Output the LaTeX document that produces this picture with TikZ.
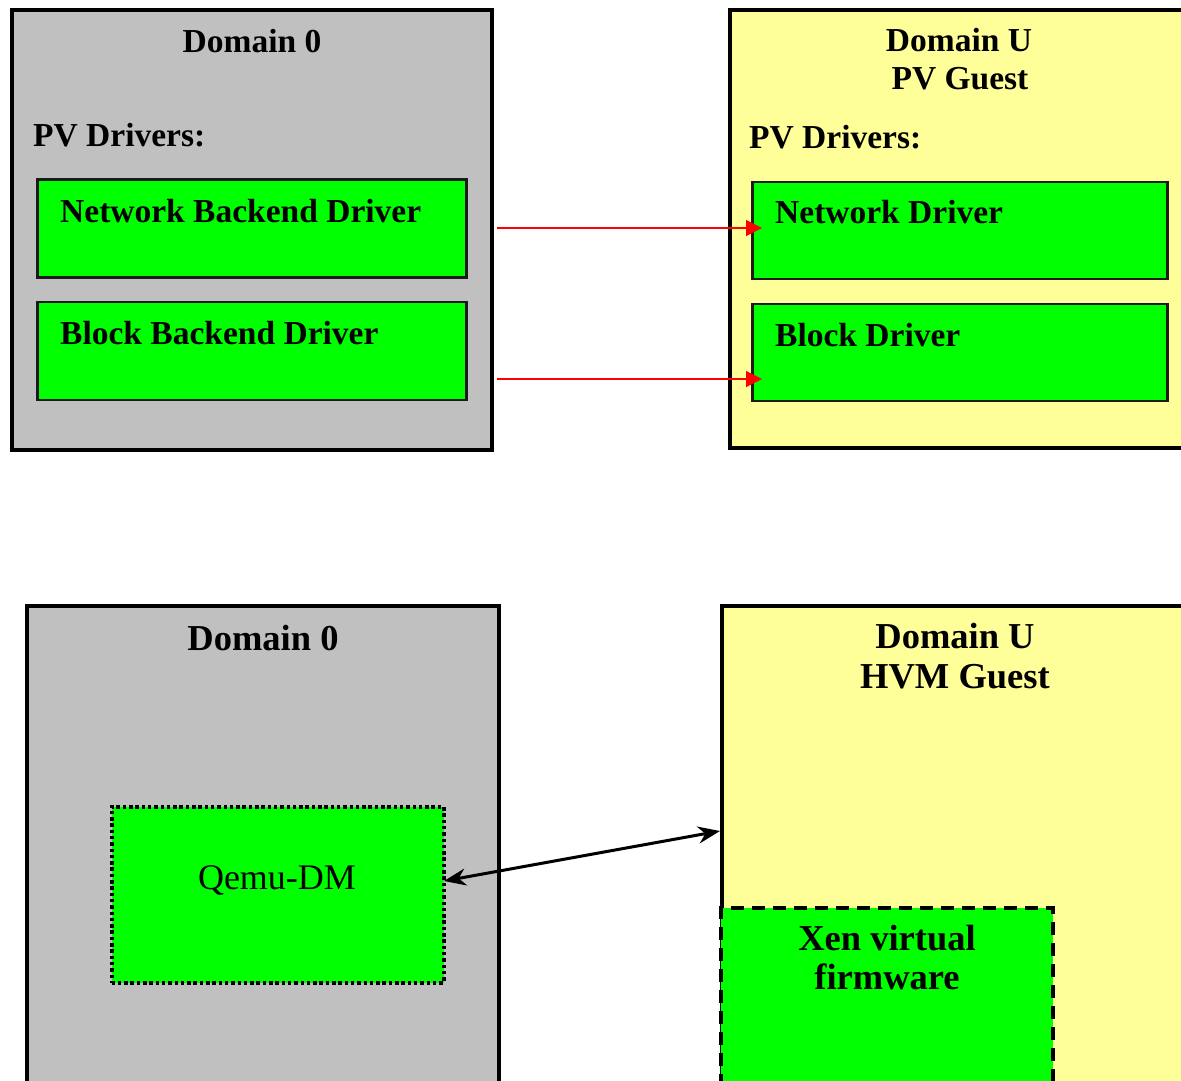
\documentclass[tikz,border=0pt]{standalone}
\usepackage{fontspec}
\setmainfont{Liberation Serif}
\usetikzlibrary{arrows.meta}
\definecolor{domgray}{HTML}{C0C0C0}
\definecolor{domyellow}{HTML}{FFFF99}
\definecolor{drvgreen}{HTML}{00FF00}
\definecolor{edge}{HTML}{1A1A1A}
\tikzset{
  dombox/.style={draw=black, line width=4pt, inner sep=0pt, outer sep=0pt, anchor=north west},
  drvbox/.style={draw=edge, fill=drvgreen, line width=2.2pt, inner sep=0pt, outer sep=0pt, anchor=north west},
  toptext/.style={inner sep=0pt, font=\fontsize{33.5}{38}\selectfont\bfseries},
  bottext/.style={inner sep=0pt, align=center, font=\fontsize{36.5}{40}\selectfont\bfseries},
  redarrow/.style={draw=red, line width=1.2pt, -{Triangle[length=16pt,width=16pt]}, fill=red},
}
\begin{document}
\begin{tikzpicture}[x=1pt,y=-1pt]
\clip (0,0) rectangle (1181,1081);
\fill[white] (0,0) rectangle (1181,1081);
% ---------- top part ----------
\node[dombox, fill=domgray, minimum width=480, minimum height=439] (d0top) at (12,10.5) {};
\node[dombox, fill=domyellow, minimum width=480, minimum height=437] (dutop) at (729.5,10.5) {};
\node[drvbox, minimum width=429, minimum height=98] (nbd) at (37.5,179.5) {};
\node[drvbox, minimum width=429, minimum height=98] (bbd) at (37.5,302) {};
\node[drvbox, minimum width=415, minimum height=97] (nd) at (752.5,182) {};
\node[drvbox, minimum width=415, minimum height=97] (bd) at (752.5,304) {};
\node[toptext, anchor=base] (t1) at (252,53) {Domain 0};
\node[toptext, anchor=base west] (t2) at (33,146) {PV Drivers:};
\node[toptext, anchor=base] (t3) at (959,52) {Domain U};
\node[toptext, anchor=base] (t4) at (960,89) {PV Guest};
\node[toptext, anchor=base west] (t5) at (749,148) {PV Drivers:};
\node[toptext, anchor=base west] (t6) at (60,222) {Network Backend Driver};
\node[toptext, anchor=base west] (t7) at (60,344) {Block Backend Driver};
\node[toptext, anchor=base west] (t8) at (775,223) {Network Driver};
\node[toptext, anchor=base west] (t9) at (775,346) {Block Driver};
\coordinate (a1s) at (497,228);
\coordinate (a1e) at (762,228);
\coordinate (a2s) at (497,379);
\coordinate (a2e) at (762,379);
\draw[redarrow] (a1s) -- (a1e);
\draw[redarrow] (a2s) -- (a2e);
% ---------- bottom part ----------
\node[dombox, fill=domgray, minimum width=472, minimum height=520] (d0bot) at (27,605.5) {};
\node[dombox, fill=domyellow, minimum width=480, minimum height=520] (dubot) at (721.5,605.5) {};
\node[draw=black, fill=drvgreen, line width=4pt, dash pattern=on 3.5pt off 2.8pt, inner sep=0pt, outer sep=0pt, anchor=north west, minimum width=332, minimum height=176] (qemu) at (111.5,806.5) {};
\node[inner sep=0pt, anchor=base, font=\fontsize{36}{40}\selectfont] (qtext) at (277,889) {Qemu-DM};
\node[draw=black, fill=drvgreen, line width=4pt, dash pattern=on 13pt off 8pt, inner sep=0pt, outer sep=0pt, anchor=north west, minimum width=332, minimum height=220] (xen) at (721,908) {};
\node[bottext, anchor=base] (x1) at (887,950) {Xen virtual};
\node[bottext, anchor=base] (x2) at (887,989) {firmware};
\node[bottext, anchor=base] (b1) at (263,650) {Domain 0};
\node[bottext, anchor=base] (b2) at (955,648) {Domain U};
\node[bottext, anchor=base] (b3) at (955,688) {HVM Guest};
\coordinate (qe) at (444,881);
\coordinate (hv) at (720,831);
\draw[line width=3pt, {Stealth[length=22pt,width=17pt]}-{Stealth[length=22pt,width=17pt]}] (qe) -- (hv);
\end{tikzpicture}
\end{document}
